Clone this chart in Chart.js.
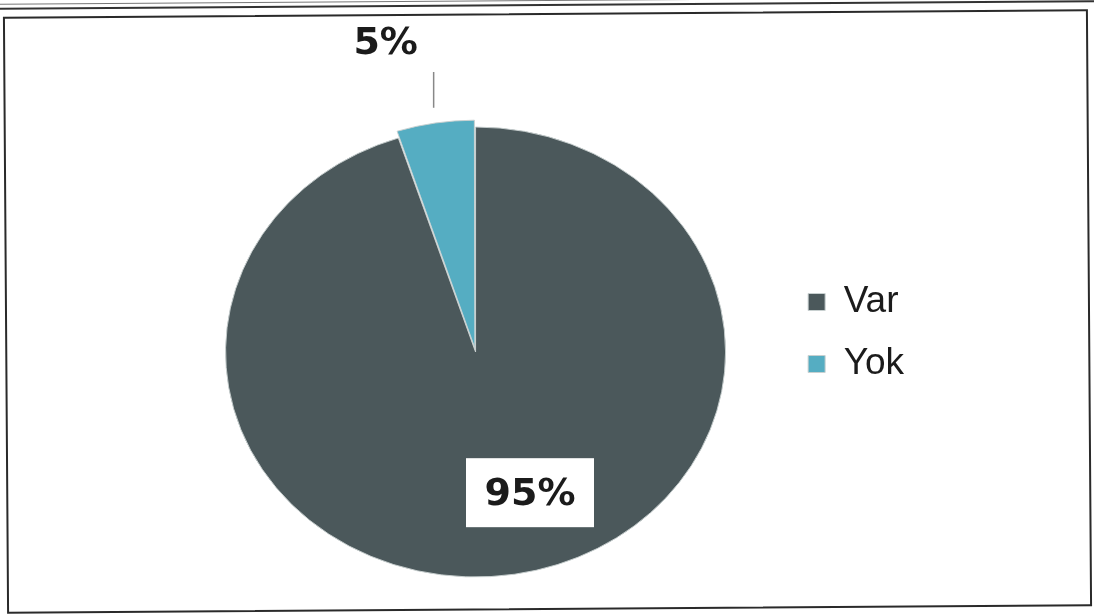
<!DOCTYPE html>
<html>
<head>
<meta charset="utf-8">
<script src="https://cdn.jsdelivr.net/npm/chart.js@4/dist/chart.umd.min.js"></script>
<style>
  html, body { margin: 0; padding: 0; background: #fff; }
  #page { position: relative; width: 1094px; height: 616px; overflow: hidden; }
  #topline { position: absolute; left: -10px; top: 0; width: 1120px; height: 3px;
    border-top: 1px solid #777; border-bottom: 2px solid #333; transform: rotate(-0.4deg); }
  #frame { position: absolute; left: 5px; top: 13px; width: 1081px; height: 593px;
    border: 2px solid #2a2a2a; transform: rotate(-0.4deg); }
  #chart { position: absolute; left: 0; top: 0; }
</style>
</head>
<body>
<div id="page">
  <div id="topline"></div>
  <div id="frame"></div>
  <canvas id="chart" width="1094" height="616"></canvas>
</div>
<script>
// data
const categories = ['Var', 'Yok'];
const shares = [95, 5];
const sliceColors = ['#4b585b', '#55adc2'];
const sliceOffsets = [0, 18];

const PIE_SQUASH = 0.9; // pie is a little wider than tall in the scan

// squash the pie vertically around its centre
const squashPie = {
  id: 'squashPie',
  beforeDatasetsDraw(chart) {
    const { ctx } = chart;
    const arc = chart.getDatasetMeta(0).data[0];
    ctx.save();
    ctx.translate(arc.x, arc.y);
    ctx.scale(1, PIE_SQUASH);
    ctx.translate(-arc.x, -arc.y);
  },
  afterDatasetsDraw(chart) {
    chart.ctx.restore();
  },
};

// move legend rows up a bit, like the original
const legendShift = {
  id: 'legendShift',
  afterLayout(chart) {
    chart.legend.top -= 19;
    chart.legend.bottom -= 19;
  },
};

const pctLabels = {
  id: 'pctLabels',
  afterDraw(chart) {
    const { ctx } = chart;
    const arcs = chart.getDatasetMeta(0).data;
    ctx.save();
    ctx.font = 'bold 38px "DejaVu Sans"';
    ctx.textAlign = 'center';
    ctx.textBaseline = 'middle';

    // big slice: label inside on a white box
    const big = arcs[0];
    const a0 = big.startAngle + 0.47 * (big.endAngle - big.startAngle);
    const r0 = big.outerRadius * 0.66;
    const bx = big.x + Math.cos(a0) * r0;
    const by = big.y + Math.sin(a0) * r0 * PIE_SQUASH;
    ctx.fillStyle = '#fff';
    ctx.fillRect(bx - 64, by - 34, 128, 69);
    ctx.fillStyle = '#1b1b1b';
    ctx.fillText(shares[0] + '%', bx, by + 3);

    // small exploded slice: label outside with leader line
    const sm = arcs[1];
    const a1 = (sm.startAngle + sm.endAngle) / 2;
    const r1 = sm.outerRadius + sliceOffsets[1];
    const px = sm.x + Math.cos(a1) * r1;
    const py = sm.y + Math.sin(a1) * r1 * PIE_SQUASH;
    ctx.strokeStyle = '#888';
    ctx.lineWidth = 1.5;
    ctx.beginPath();
    ctx.moveTo(px, py - 6);
    ctx.lineTo(px, 72);
    ctx.stroke();
    ctx.fillStyle = '#1b1b1b';
    ctx.fillText(shares[1] + '%', px - 48, 44);
    ctx.restore();
  },
};

new Chart(document.getElementById('chart'), {
  type: 'pie',
  data: {
    labels: categories,
    datasets: [{
      data: shares,
      backgroundColor: sliceColors,
      borderColor: '#c8d0d0',
      borderWidth: 1,
      offset: sliceOffsets,
    }],
  },
  options: {
    responsive: false,
    animation: false,
    radius: 250,
    layout: { padding: { left: 168, right: 180, top: 100, bottom: 12 } },
    plugins: {
      legend: {
        position: 'right',
        labels: {
          font: { family: '"Liberation Sans", Arial, sans-serif', size: 37 },
          color: '#1b1b1b',
          boxWidth: 17,
          boxHeight: 17,
          padding: 25,
        },
      },
      tooltip: { enabled: false },
    },
  },
  plugins: [squashPie, legendShift, pctLabels],
});
</script>
</body>
</html>
